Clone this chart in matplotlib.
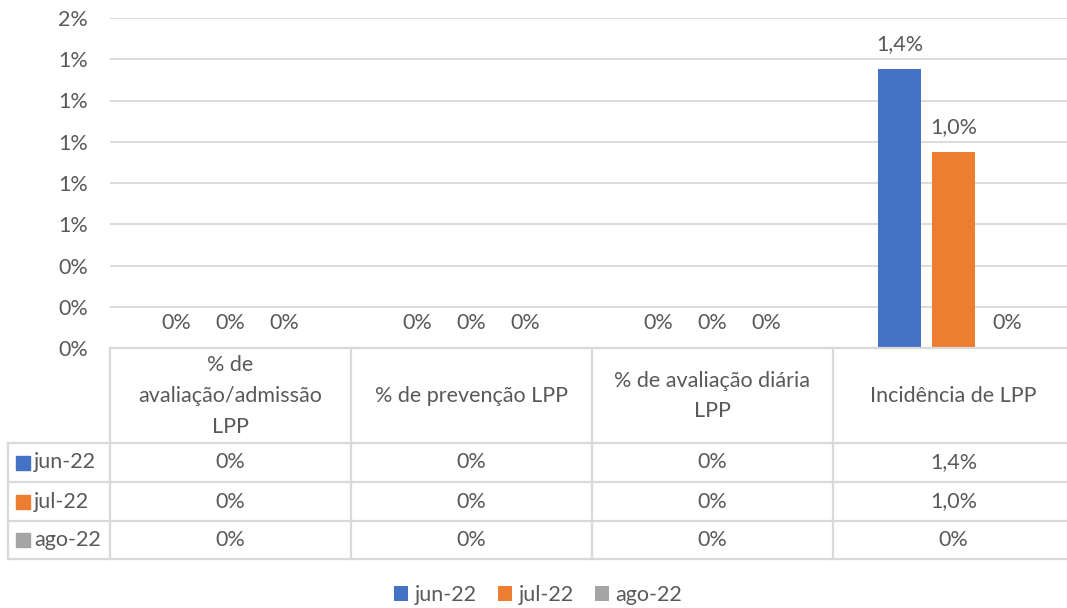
import numpy as np
import matplotlib.pyplot as plt
from matplotlib.patches import Rectangle
from matplotlib.ticker import FuncFormatter, MultipleLocator

plt.rcParams['font.family'] = ['Lato', 'DejaVu Sans']

# data
categories = ['% de\navaliação/admissão\nLPP', '% de prevenção LPP',
              '% de avaliação diária\nLPP', 'Incidência de LPP']
series = ['jun-22', 'jul-22', 'ago-22']
jun_22 = [0.0, 0.0, 0.0, 0.01352]
jul_22 = [0.0, 0.0, 0.0, 0.00952]
ago_22 = [0.0, 0.0, 0.0, 0.0]
values = [jun_22, jul_22, ago_22]
colors = ['#4472C4', '#ED7D31', '#A5A5A5']

txt = '#595959'
grid = '#D9D9D9'
fs = 15.5


def fmt(v):
    if v == 0:
        return '0%'
    return f'{v * 100:.1f}%'.replace('.', ',')


W, H = 1067, 608
fig = plt.figure(figsize=(W / 100, H / 100), dpi=100)

# plot area in pixels: left 110, right 1074, top 18, bottom 348
ax = fig.add_axes([110 / W, (H - 348) / H, 964 / W, 330 / H])
x = np.arange(len(categories)) + 0.5
bw = 0.178
offs = [-0.224, 0.0, 0.224]
bars = []
for vals, c, o, name in zip(values, colors, offs, series):
    b = ax.bar(x + o, vals, width=bw, color=c, label=name, zorder=3)
    bars.append(b)
    for xi, v in zip(x + o, vals):
        ax.annotate(fmt(v), (xi, v), xytext=(0, 25), textcoords='offset pixels',
                    ha='center', va='center', fontsize=fs, color=txt)

ax.set_xlim(0, len(categories))
ax.set_ylim(0, 0.016)
ax.yaxis.set_major_locator(MultipleLocator(0.002))
ax.yaxis.set_major_formatter(FuncFormatter(lambda v, p: f'{v * 100:.0f}%'))
ax.grid(axis='y', color=grid, linewidth=1.3, zorder=0)
ax.set_xticks([])
ax.tick_params(axis='y', length=0, pad=16, labelsize=fs, labelcolor=txt)
for s in ax.spines.values():
    s.set_visible(False)

# data table drawn in pixel coordinates
tax = fig.add_axes([0, 0, 1, 1])
tax.set_xlim(0, W)
tax.set_ylim(H, 0)
tax.axis('off')
lc = '#D9D9D9'
lw = 1.6
col_edges = [110, 351, 592, 833, 1074]
row_edges = [348, 443, 482, 521, 559]
tax.plot([110, 1074], [348, 348], color=lc, lw=lw)
for y in row_edges[1:]:
    tax.plot([8, 1074], [y, y], color=lc, lw=lw)
tax.plot([8, 8], [443, 559], color=lc, lw=lw)
for xe in col_edges[:-1]:
    tax.plot([xe, xe], [348, 559], color=lc, lw=lw)

for i, cat in enumerate(categories):
    cx = (col_edges[i] + col_edges[i + 1]) / 2
    tax.text(cx, 396, cat, ha='center', va='center', fontsize=fs, color=txt,
             linespacing=1.66, multialignment='center')

for r, (name, vals, c) in enumerate(zip(series, values, colors)):
    cy = (row_edges[r + 1] + row_edges[r + 2]) / 2
    tax.add_patch(Rectangle((16, cy - 7), 14, 14, color=c))
    tax.text(34, cy, name, ha='left', va='center', fontsize=fs, color=txt)
    for i, v in enumerate(vals):
        cx = (col_edges[i] + col_edges[i + 1]) / 2
        tax.text(cx, cy, fmt(v), ha='center', va='center', fontsize=fs, color=txt)

fig.legend(handles=bars, labels=series, loc='center', bbox_to_anchor=(538 / W, 1 - 595 / H),
           ncol=3, frameon=False, fontsize=fs, labelcolor=txt, handlelength=0.65,
           handleheight=0.65, handletextpad=0.3, columnspacing=1.0)

fig.savefig('out.png', dpi=100)
